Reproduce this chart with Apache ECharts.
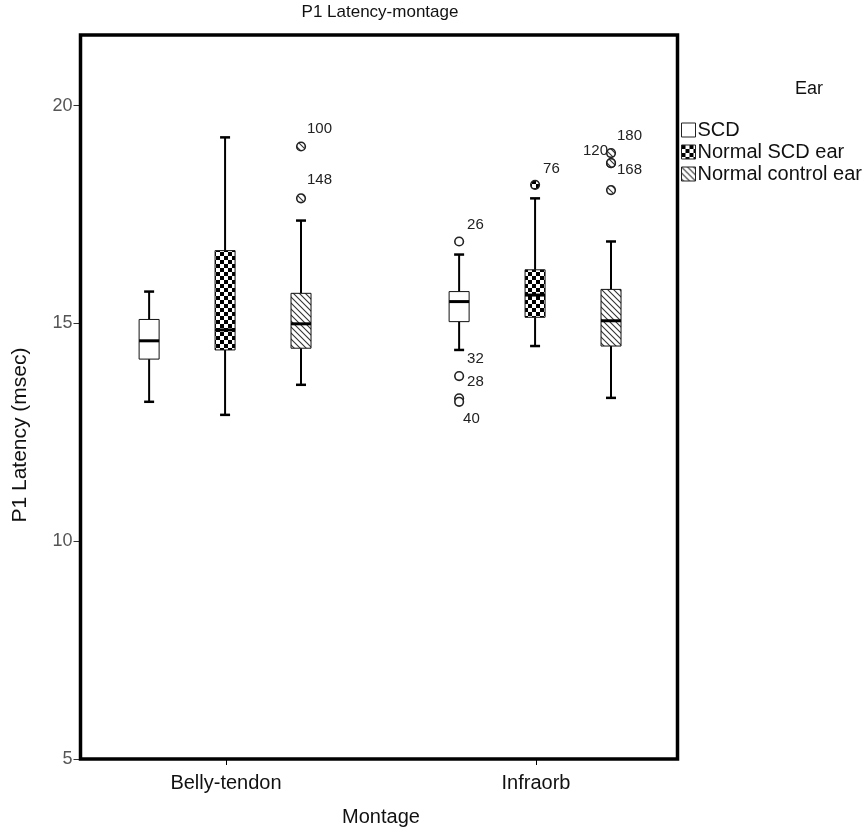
<!DOCTYPE html>
<html>
<head>
<meta charset="utf-8">
<script src="https://cdn.jsdelivr.net/npm/echarts@6/dist/echarts.min.js"></script>
<style>html,body{margin:0;padding:0;background:#fff}#chart{width:868px;height:832px}</style>
</head>
<body>
<div id="chart"></div>
<script>
// ---- data ----
const categories = ['Belly-tendon', 'Infraorb'];
const seriesNames = ['SCD', 'Normal SCD ear', 'Normal control ear'];
// [categoryIndex, min, Q1, median, Q3, max]
const scdBox = [[0, 13.20, 14.18, 14.60, 15.09, 15.73], [1, 14.39, 15.04, 15.50, 15.73, 16.58]];
const normalScdBox = [[0, 12.90, 14.39, 14.85, 16.67, 19.27], [1, 14.48, 15.14, 15.65, 16.23, 17.87]];
const controlBox = [[0, 13.59, 14.43, 14.99, 15.69, 17.36], [1, 13.29, 14.48, 15.06, 15.78, 16.88]];
// [categoryIndex, value, case id]
const scdOutliers = [[1, 16.88, '26'], [1, 13.79, '32'], [1, 13.28, '28'], [1, 13.20, '40']];
const normalScdOutliers = [[1, 18.18, '76']];
const controlOutliers = [[0, 19.06, '100'], [0, 17.87, '148'], [1, 18.91, '180'], [1, 18.68, '120'], [1, 18.68, '168'], [1, 18.06, '']];
const yTicks = { min: 5, max: 21.62, interval: 5 };

// ---- styles ----
const FONT = 'Liberation Sans, Arial, sans-serif';
function checker() {
  const c = document.createElement('canvas'); c.width = 8; c.height = 8;
  const g = c.getContext('2d');
  g.fillStyle = '#fff'; g.fillRect(0, 0, 8, 8);
  g.fillStyle = '#000'; g.fillRect(0, 0, 4, 4); g.fillRect(4, 4, 4, 4);
  return { image: c, repeat: 'repeat' };
}
function hatch() {
  const c = document.createElement('canvas'); c.width = 6; c.height = 6;
  const g = c.getContext('2d');
  g.fillStyle = '#fff'; g.fillRect(0, 0, 6, 6);
  g.strokeStyle = '#333'; g.lineWidth = 1.1;
  g.beginPath();
  g.moveTo(-1, -1); g.lineTo(7, 7);
  g.moveTo(-1, 5); g.lineTo(1, 7);
  g.moveTo(5, -1); g.lineTo(7, 1);
  g.stroke();
  return { image: c, repeat: 'repeat' };
}
const fills = ['#ffffff', checker(), hatch()];
const offsets = [-0.248, -0.003, 0.242];
const labelPos = {
  '100': [6, -18, 'left'], '148': [6, -18, 'left'], '26': [8, -17, 'left'],
  '32': [8, -17, 'left'], '28': [8, -16, 'left'], '40': [4, 17, 'left'],
  '76': [8, -16, 'left'], '180': [6, -17, 'left'], '120': [-3, -12, 'right'],
  '168': [6, 7, 'left']
};

function boxRender(k) {
  return function (params, api) {
    const cat = api.value(0);
    const band = api.size([1, 0])[0];
    const xc = api.coord([cat, 10])[0] + offsets[k] * band;
    const y = i => api.coord([cat, api.value(i)])[1];
    const yMin = y(1), yQ1 = y(2), yMed = y(3), yQ3 = y(4), yMax = y(5);
    const hw = 10, cw = 5;
    const ls = { stroke: '#000', lineWidth: 2 };
    return {
      type: 'group', children: [
        { type: 'line', shape: { x1: xc, y1: yQ3, x2: xc, y2: yMax }, style: ls },
        { type: 'line', shape: { x1: xc, y1: yQ1, x2: xc, y2: yMin }, style: ls },
        { type: 'line', shape: { x1: xc - cw, y1: yMax, x2: xc + cw, y2: yMax }, style: { stroke: '#000', lineWidth: 2.5 } },
        { type: 'line', shape: { x1: xc - cw, y1: yMin, x2: xc + cw, y2: yMin }, style: { stroke: '#000', lineWidth: 2.5 } },
        { type: 'rect', shape: { x: xc - hw, y: yQ3, width: 2 * hw, height: yQ1 - yQ3 }, style: { fill: fills[k], stroke: '#111', lineWidth: 1 } },
        { type: 'line', shape: { x1: xc - hw, y1: yMed, x2: xc + hw, y2: yMed }, style: { stroke: '#000', lineWidth: 3 } }
      ]
    };
  };
}
function outRender(k, src) {
  return function (params, api) {
    const cat = api.value(0);
    const band = api.size([1, 0])[0];
    const p = api.coord([cat, api.value(1)]);
    const xc = p[0] + offsets[k] * band, yc = p[1];
    const id = src[params.dataIndex][2];
    const children = [
      { type: 'circle', shape: { cx: xc, cy: yc, r: 4.3 }, style: { fill: fills[k], stroke: '#222', lineWidth: 1.6 } }
    ];
    if (id && labelPos[id]) {
      const lp = labelPos[id];
      children.push({ type: 'text', x: xc + lp[0], y: yc + lp[1], style: { text: id, fill: '#222', font: '15px ' + FONT, align: lp[2], verticalAlign: 'middle' } });
    }
    return { type: 'group', children };
  };
}

const boxData = [scdBox, normalScdBox, controlBox];
const outData = [scdOutliers, normalScdOutliers, controlOutliers];
const series = [];
seriesNames.forEach((name, k) => {
  series.push({ type: 'custom', name, xAxisIndex: 1, yAxisIndex: 1, renderItem: boxRender(k), encode: { x: 0, y: [1, 2, 3, 4, 5] }, data: boxData[k], itemStyle: { color: fills[k] }, z: 3 });
  series.push({ type: 'custom', name, xAxisIndex: 1, yAxisIndex: 1, renderItem: outRender(k, outData[k]), encode: { x: 0, y: 1 }, data: outData[k], itemStyle: { color: fills[k] }, z: 4 });
});

const chart = echarts.init(document.getElementById('chart'), null, { renderer: 'canvas' });
chart.setOption({
  animation: false,
  backgroundColor: '#fff',
  textStyle: { fontFamily: FONT },
  title: [
    { text: 'P1 Latency-montage', left: 380, top: 4, textAlign: 'center', padding: 0, textStyle: { fontSize: 17, fontWeight: 'normal', color: '#111', fontFamily: FONT } },
    { text: 'Ear', left: 809, top: 80, textAlign: 'center', padding: 0, textStyle: { fontSize: 18, fontWeight: 'normal', color: '#111', fontFamily: FONT } }
  ],
  legend: {
    orient: 'vertical', left: 681, top: 120, padding: 0, itemWidth: 14, itemHeight: 14, itemGap: 2,
    selectedMode: false,
    textStyle: { fontSize: 20, color: '#111', fontFamily: FONT, padding: [0, 0, 0, -3] },
    data: [
      { name: seriesNames[0], icon: 'rect', itemStyle: { color: fills[0], borderColor: '#222', borderWidth: 1 } },
      { name: seriesNames[1], icon: 'rect', itemStyle: { color: fills[1], borderColor: '#222', borderWidth: 1 } },
      { name: seriesNames[2], icon: 'rect', itemStyle: { color: fills[2], borderColor: '#222', borderWidth: 1 } }
    ]
  },
  grid: [
    { left: 80.5, right: 190.5, top: 35, bottom: 73, show: true, borderColor: '#000', borderWidth: 3.5, backgroundColor: 'transparent', z: 5 },
    { left: 71, right: 177, top: 35, bottom: 73 }
  ],
  xAxis: [
    { gridIndex: 0, type: 'value', show: false, min: 0, max: 1 },
    {
      gridIndex: 1, type: 'category', data: categories,
      axisLine: { show: false },
      axisTick: { show: true, alignWithLabel: true, length: 6, lineStyle: { color: '#000', width: 1 } },
      axisLabel: { fontSize: 20, color: '#111', margin: 14, fontFamily: FONT },
      name: 'Montage', nameLocation: 'middle', nameGap: 48,
      nameTextStyle: { fontSize: 20, color: '#111', fontFamily: FONT }
    }
  ],
  yAxis: [
    {
      gridIndex: 0, type: 'value', min: yTicks.min, max: yTicks.max, interval: yTicks.interval,
      axisLine: { show: false }, splitLine: { show: false },
      axisTick: { show: true, length: 7, lineStyle: { color: '#333', width: 1 } },
      axisLabel: { fontSize: 18, color: '#555', margin: 8, showMaxLabel: false, fontFamily: FONT },
      name: 'P1 Latency (msec)', nameLocation: 'middle', nameGap: 50,
      nameTextStyle: { fontSize: 21, color: '#111', fontFamily: FONT, padding: [0, 76, 0, 0] }
    },
    { gridIndex: 1, type: 'value', min: yTicks.min, max: yTicks.max, show: false, splitLine: { show: false } }
  ],
  series
});
</script>
</body>
</html>
